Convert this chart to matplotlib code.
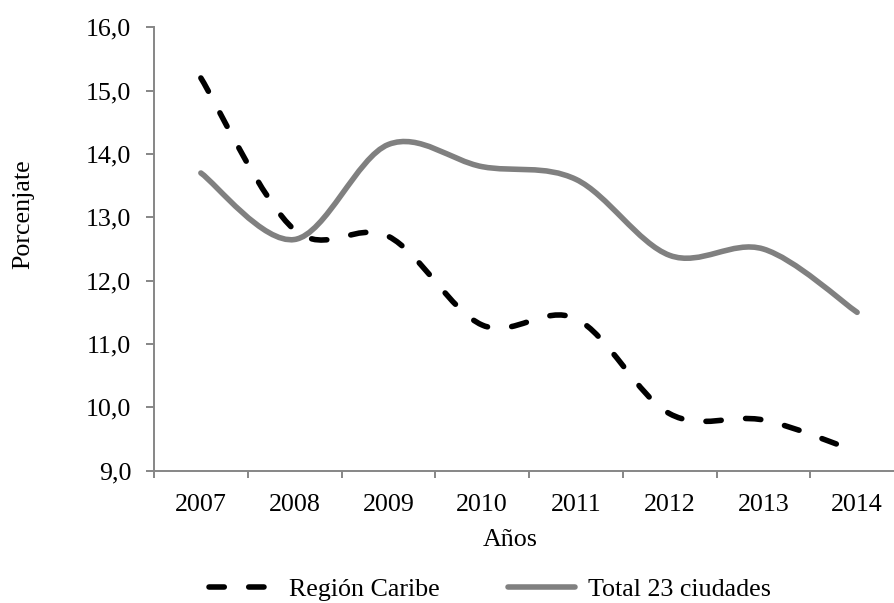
import matplotlib
matplotlib.use("Agg")
import matplotlib.pyplot as plt
from matplotlib.path import Path
from matplotlib.patches import PathPatch
from matplotlib.lines import Line2D
import numpy as np

# ---- data ----
years = ["2007", "2008", "2009", "2010", "2011", "2012", "2013", "2014"]
region_caribe = [15.2, 12.8, 12.7, 11.3, 11.4, 9.9, 9.8, 9.3]
total_23 = [13.7, 12.65, 14.15, 13.8, 13.6, 12.4, 12.5, 11.5]
y_ticks = [9, 10, 11, 12, 13, 14, 15, 16]
y_tick_labels = ["9,0", "10,0", "11,0", "12,0", "13,0", "14,0", "15,0", "16,0"]
series_names = ["Región Caribe", "Total 23 ciudades"]

plt.rcParams['font.family'] = ['Liberation Serif', 'DejaVu Serif']
FS = 18.7
AX_COLOR = "#868686"
GRAY = "#808080"
LW = 4.0

fig = plt.figure(figsize=(8.94, 6.03), dpi=100)
W, H = 894, 603
ax = fig.add_axes([154 / W, 1 - 470.7 / H, 750 / W, (470.7 - 27.3) / H])


def smooth_path(xs, ys):
    pts = np.column_stack([xs, ys]).astype(float)
    n = len(pts)
    verts = [pts[0]]
    codes = [Path.MOVETO]
    for i in range(n - 1):
        p0 = pts[max(i - 1, 0)]
        p1 = pts[i]
        p2 = pts[i + 1]
        p3 = pts[min(i + 2, n - 1)]
        c1 = p1 + (p2 - p0) / 6.0
        c2 = p2 - (p3 - p1) / 6.0
        verts += [c1, c2, p2]
        codes += [Path.CURVE4] * 3
    return Path(verts, codes)


x = np.arange(len(years))
dash = (0, (2.75, 4.4))

ax.add_patch(PathPatch(smooth_path(x, total_23), fill=False, edgecolor=GRAY,
                       linewidth=LW, capstyle='round', joinstyle='round'))
ax.add_patch(PathPatch(smooth_path(x, region_caribe), fill=False, edgecolor='black',
                       linewidth=LW, linestyle=dash, capstyle='round', joinstyle='round'))

ax.set_xlim(-0.5, len(years) - 0.5)
ax.set_ylim(9, 16)

# spines
for s in ['top', 'right']:
    ax.spines[s].set_visible(False)
for s in ['left', 'bottom']:
    ax.spines[s].set_color(AX_COLOR)
    ax.spines[s].set_linewidth(1.4)

# y ticks
ax.set_yticks(y_ticks)
ax.set_yticklabels(y_tick_labels)
ax.tick_params(axis='y', direction='out', length=5.8, width=1.4, color=AX_COLOR,
               pad=10.5, labelsize=FS, labelcolor='black')

# x ticks: marks at boundaries, labels at centers
ax.set_xticks(np.arange(len(years) + 1) - 0.5)
ax.set_xticklabels([])
ax.set_xticks(x, minor=True)
ax.set_xticklabels(years, minor=True)
ax.tick_params(axis='x', which='major', direction='out', length=5.0, width=1.4,
               color=AX_COLOR)
ax.tick_params(axis='x', which='minor', length=0, pad=16.5, labelsize=FS,
               labelcolor='black')

# axis titles
fig.text(510 / W, 1 - 540 / H, "Años", ha='center', va='center', fontsize=FS)
fig.text(23 / W, 1 - 214 / H, "Porcenjate", ha='center', va='center',
         rotation=90, fontsize=FS)

# legend
handles = [
    Line2D([], [], color='black', linewidth=LW, linestyle=dash,
           dash_capstyle='round', solid_capstyle='round'),
    Line2D([], [], color=GRAY, linewidth=LW, solid_capstyle='round'),
]
fig.legend(handles, series_names, loc='center', ncol=2,
           bbox_to_anchor=(490 / W, 1 - 589 / H), frameon=False, fontsize=FS,
           handlelength=2.6, handletextpad=0.5, columnspacing=2.6,
           borderpad=0, borderaxespad=0)

fig.savefig("out.png", dpi=100)
